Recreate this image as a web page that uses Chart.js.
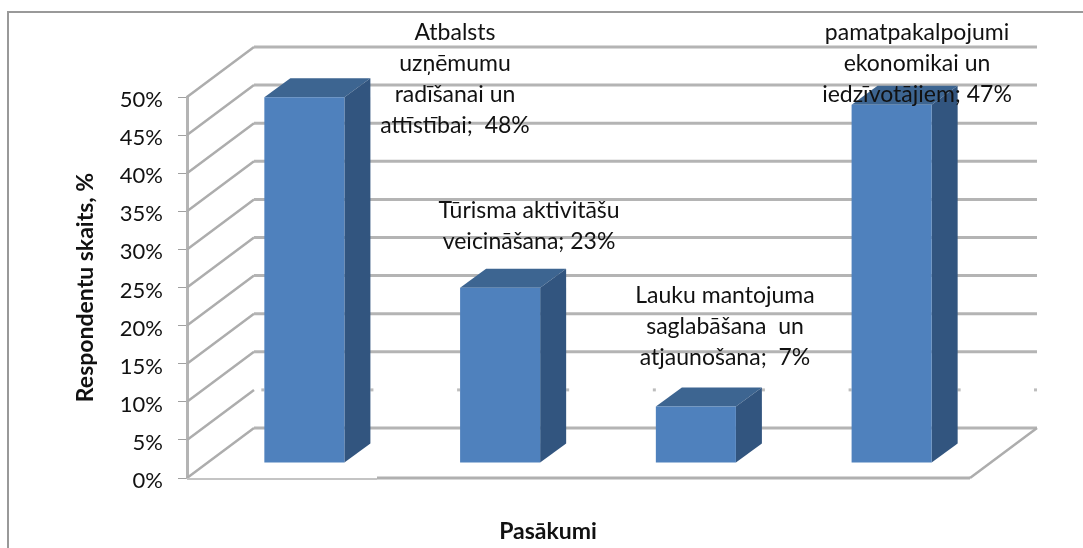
<!DOCTYPE html>
<html>
<head>
<meta charset="utf-8">
<title>Pasākumi</title>
<script src="https://cdn.jsdelivr.net/npm/chart.js@4"></script>
<style>
  html, body { margin: 0; padding: 0; background: #fff; }
  #wrap { position: relative; width: 1083px; height: 548px; overflow: hidden; }
  #frame { position: absolute; left: 7px; top: 11px; width: 1076px; height: 537px; border-left: 2px solid #999; border-top: 2px solid #999; box-sizing: border-box; }
</style>
</head>
<body>
<div id="wrap">
  <div id="frame"></div>
  <canvas id="chart" width="1083" height="548" style="position:absolute;left:0;top:0"></canvas>
</div>
<script>
// data
const categories = ['Atbalsts uzņēmumu radīšanai un attīstībai', 'Tūrisma aktivitāšu veicināšana', 'Lauku mantojuma saglabāšana un atjaunošana', 'pamatpakalpojumi ekonomikai un iedzīvotājiem'];
const values = [48, 23, 7.4, 47];
const tickStep = 5;
const axisMax = 50;
const yTitle = 'Respondentu skaits, %';
const xTitle = 'Pasākumi';

// how each label wraps in the picture, the value gets added to the last line
const labelLines = [
    ['Atbalsts', 'uzņēmumu', 'radīšanai un', 'attīstībai;  '],
    ['Tūrisma aktivitāšu', 'veicināšana; '],
    ['Lauku mantojuma', 'saglabāšana  un', 'atjaunošana;  '],
    ['pamatpakalpojumi', 'ekonomikai un', 'iedzīvotājiem; ']
];
const labelCenterX = [455, 529, 725, 917];
const labelFirstY = [33, 211, 296, 33];
const labelLineGap = 31;

const FONT = 'Lato, Carlito, sans-serif';
const GRID = '#b4b4b4';
const wallDepth = { x: 67, y: -50 };   // front plane -> back wall
const barShift = { x: 19.5, y: -15 };  // front plane -> bar front face
const barDepth = { x: 26, y: -19 };    // bar front face -> bar back face

function line(ctx, x1, y1, x2, y2, width, color) {
    ctx.beginPath();
    ctx.moveTo(x1, y1);
    ctx.lineTo(x2, y2);
    ctx.lineWidth = width;
    ctx.strokeStyle = color;
    ctx.stroke();
}

function poly(ctx, pts, color) {
    ctx.beginPath();
    pts.forEach((p, i) => i ? ctx.lineTo(p[0], p[1]) : ctx.moveTo(p[0], p[1]));
    ctx.closePath();
    ctx.fillStyle = color;
    ctx.fill();
}

const depthPlugin = {
    id: 'depth',
    beforeDatasetsDraw(chart) {
        const ctx = chart.ctx;
        const area = chart.chartArea;
        const y = chart.scales.y;
        const bars = chart.getDatasetMeta(0).data;
        ctx.save();
        y.ticks.forEach(t => {
            const py = y.getPixelForValue(t.value);
            // left wall
            line(ctx, area.left, py, area.left + wallDepth.x, py + wallDepth.y, 2.5, '#adadad');
            // back wall, the 5% line only survives as small stubs next to the bars
            const backY = py + wallDepth.y;
            if (t.value === tickStep) {
                bars.forEach(b => {
                    const l = b.x - b.width / 2 + barShift.x;
                    const r = b.x + b.width / 2 + barShift.x + barDepth.x;
                    line(ctx, l - 3, backY, l, backY, 3, '#bdbdbd');
                    line(ctx, r, backY, r + 3, backY, 3, '#bdbdbd');
                });
                line(ctx, area.right + wallDepth.x - 3, backY, area.right + wallDepth.x, backY, 3, '#bdbdbd');
            } else {
                line(ctx, area.left + wallDepth.x, backY, area.right + wallDepth.x, backY, 3, GRID);
            }
        });
        // floor
        const y0 = y.getPixelForValue(0);
        line(ctx, area.left, y0 + 1, 377, y0 + 1, 2, '#c4c4c4');
        line(ctx, 377, y0, area.right, y0, 3, '#b0b0b0');
        line(ctx, area.right, y0, area.right + wallDepth.x, y0 + wallDepth.y, 2.5, '#adadad');
        ctx.restore();
    },
    beforeDatasetDraw(chart, args) {
        const ctx = chart.ctx;
        args.meta.data.forEach(b => {
            const l = b.x - b.width / 2 + barShift.x;
            const r = b.x + b.width / 2 + barShift.x;
            const top = b.y + barShift.y;
            const bot = b.base + barShift.y;
            poly(ctx, [[l, top], [l + barDepth.x, top + barDepth.y], [r + barDepth.x, top + barDepth.y], [r, top]], '#3d6591');
            poly(ctx, [[r, top], [r + barDepth.x, top + barDepth.y], [r + barDepth.x, bot + barDepth.y], [r, bot]], '#32557f');
        });
        // the library draws the front faces, moved into the depth of the floor
        ctx.save();
        ctx.translate(barShift.x, barShift.y);
    },
    afterDatasetDraw(chart) {
        chart.ctx.restore();
    },
    afterDatasetsDraw(chart) {
        const ctx = chart.ctx;
        ctx.save();
        ctx.font = '23px ' + FONT;
        ctx.fillStyle = '#111';
        ctx.textAlign = 'center';
        ctx.textBaseline = 'middle';
        labelLines.forEach((lines, i) => {
            lines.forEach((txt, j) => {
                const s = j === lines.length - 1 ? txt + Math.round(values[i]) + '%' : txt;
                ctx.fillText(s, labelCenterX[i], labelFirstY[i] + j * labelLineGap);
            });
        });
        // x title sits left of the plot centre, the scale title can't do that
        ctx.font = 'bold 23px ' + FONT;
        ctx.fillText(xTitle, 548, 532);
        ctx.restore();
    }
};

new Chart(document.getElementById('chart'), {
    type: 'bar',
    data: {
        labels: categories,
        datasets: [{
            data: values,
            backgroundColor: '#4f81bd',
            borderWidth: 0,
            barPercentage: 0.409,
            categoryPercentage: 1
        }]
    },
    plugins: [depthPlugin],
    options: {
        responsive: false,
        animation: false,
        layout: { padding: { top: 97, right: 113, left: 0, bottom: 0 } },
        plugins: {
            legend: { display: false },
            tooltip: { enabled: false }
        },
        scales: {
            x: {
                afterFit: s => { s.height = 70; },
                grid: { display: false },
                border: { display: false },
                ticks: { display: false }
            },
            y: {
                min: 0,
                max: axisMax,
                afterFit: s => { s.width = 187; },
                border: { display: true, color: GRID, width: 3 },
                grid: { drawOnChartArea: false, tickLength: 9, color: '#a0a0a0', tickWidth: 1 },
                ticks: {
                    stepSize: tickStep,
                    padding: 15,
                    labelOffset: 3,
                    color: '#111',
                    font: { family: FONT, size: 22 },
                    callback: v => v + '%'
                },
                title: {
                    display: true,
                    text: yTitle,
                    color: '#111',
                    font: { family: FONT, size: 23, weight: 'bold' },
                    padding: { top: 72, bottom: 0 }
                }
            }
        }
    }
});
</script>
</body>
</html>
